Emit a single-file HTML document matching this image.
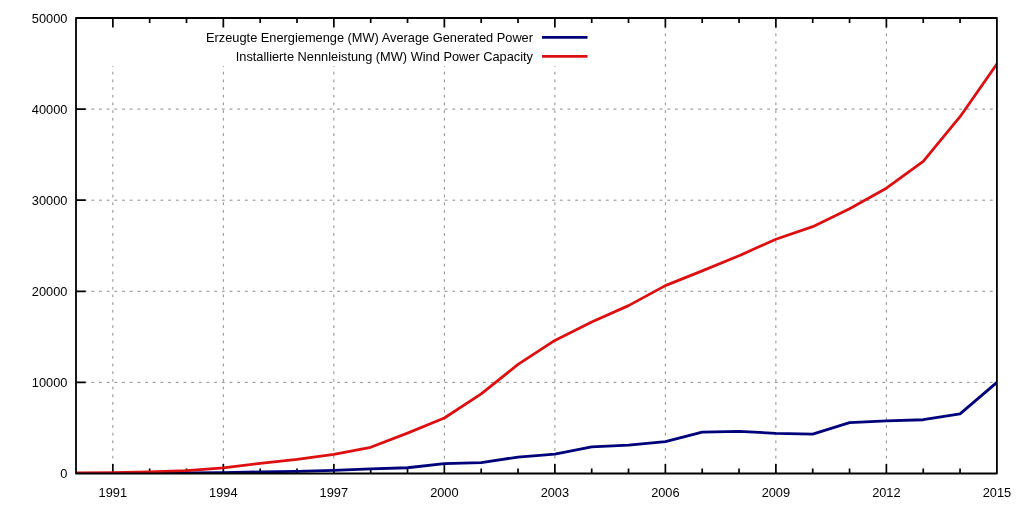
<!DOCTYPE html><html><head><meta charset="utf-8"><style>html,body{margin:0;padding:0;background:#fff;overflow:hidden;}svg{display:block;}text{font-family:"Liberation Sans",sans-serif;font-size:12.8px;fill:#000;}</style></head><body>
<svg style="will-change:transform" width="1024" height="512" viewBox="0 0 1024 512">
<path d="M76.00 382.40H996.90M76.00 291.30H996.90M76.00 200.20H996.90M76.00 109.10H996.90M112.84 18.00V473.50M223.34 18.00V473.50M333.85 18.00V473.50M444.36 18.00V473.50M554.87 18.00V473.50M665.38 18.00V473.50M775.88 18.00V473.50M886.39 18.00V473.50" stroke="#8c8c8c" stroke-width="1" stroke-dasharray="2.8,4.88" fill="none"/>
<rect x="77" y="19" width="545" height="47" fill="#fff"/>
<path d="M112.84 473.50v-9.50M112.84 18.00v9.50M149.67 473.50v-5.00M149.67 18.00v5.00M186.51 473.50v-5.00M186.51 18.00v5.00M223.34 473.50v-9.50M223.34 18.00v9.50M260.18 473.50v-5.00M260.18 18.00v5.00M297.02 473.50v-5.00M297.02 18.00v5.00M333.85 473.50v-9.50M333.85 18.00v9.50M370.69 473.50v-5.00M370.69 18.00v5.00M407.52 473.50v-5.00M407.52 18.00v5.00M444.36 473.50v-9.50M444.36 18.00v9.50M481.20 473.50v-5.00M481.20 18.00v5.00M518.03 473.50v-5.00M518.03 18.00v5.00M554.87 473.50v-9.50M554.87 18.00v9.50M591.70 473.50v-5.00M591.70 18.00v5.00M628.54 473.50v-5.00M628.54 18.00v5.00M665.38 473.50v-9.50M665.38 18.00v9.50M702.21 473.50v-5.00M702.21 18.00v5.00M739.05 473.50v-5.00M739.05 18.00v5.00M775.88 473.50v-9.50M775.88 18.00v9.50M812.72 473.50v-5.00M812.72 18.00v5.00M849.56 473.50v-5.00M849.56 18.00v5.00M886.39 473.50v-9.50M886.39 18.00v9.50M923.23 473.50v-5.00M923.23 18.00v5.00M960.06 473.50v-5.00M960.06 18.00v5.00M76.00 382.40h9.70M76.00 291.30h9.70M76.00 200.20h9.70M76.00 109.10h9.70" stroke="#000" stroke-width="1.7" fill="none"/>
<defs><clipPath id="c"><rect x="76.00" y="18.00" width="920.90" height="455.50"/></clipPath></defs><g clip-path="url(#c)">
<polyline points="76.00,473.43 112.84,473.40 149.67,473.21 186.51,472.88 223.34,472.55 260.18,471.94 297.02,471.39 333.85,470.42 370.69,468.83 407.52,467.75 444.36,463.61 481.20,462.57 518.03,457.08 554.87,454.04 591.70,446.97 628.54,445.18 665.38,441.56 702.21,432.20 739.05,431.30 775.88,433.32 812.72,434.20 849.56,422.66 886.39,420.81 923.23,419.73 960.06,413.85 996.90,382.40" stroke="#00007a" stroke-width="2.8" fill="none" stroke-linejoin="round"/>
<polyline points="76.00,473.00 112.84,472.53 149.67,471.91 186.51,470.53 223.34,467.87 260.18,463.29 297.02,459.39 333.85,454.47 370.69,447.29 407.52,433.10 444.36,417.96 481.20,393.90 518.03,364.40 554.87,340.41 591.70,322.01 628.54,305.62 665.38,285.63 702.21,270.83 739.05,255.80 775.88,239.23 812.72,226.65 849.56,208.66 886.39,188.22 923.23,161.48 960.06,116.71 996.90,64.04" stroke="#dc1010" stroke-width="2.8" fill="none" stroke-linejoin="round"/>
</g>
<rect x="76.00" y="18.00" width="920.90" height="455.50" stroke="#000" stroke-width="1.8" stroke-linejoin="round" fill="none"/>
<text x="533" y="42" text-anchor="end">Erzeugte Energiemenge (MW) Average Generated Power</text>
<path d="M542 37.3H587.5" stroke="#00007a" stroke-width="2.8"/>
<text x="533" y="61" text-anchor="end">Installierte Nennleistung (MW) Wind Power Capacity</text>
<path d="M542 56.3H587.5" stroke="#dc1010" stroke-width="2.8"/>
<text x="67.4" y="478.00" text-anchor="end">0</text>
<text x="67.4" y="386.90" text-anchor="end">10000</text>
<text x="67.4" y="295.80" text-anchor="end">20000</text>
<text x="67.4" y="204.70" text-anchor="end">30000</text>
<text x="67.4" y="113.60" text-anchor="end">40000</text>
<text x="67.4" y="22.50" text-anchor="end">50000</text>
<text x="112.84" y="497.2" text-anchor="middle">1991</text>
<text x="223.34" y="497.2" text-anchor="middle">1994</text>
<text x="333.85" y="497.2" text-anchor="middle">1997</text>
<text x="444.36" y="497.2" text-anchor="middle">2000</text>
<text x="554.87" y="497.2" text-anchor="middle">2003</text>
<text x="665.38" y="497.2" text-anchor="middle">2006</text>
<text x="775.88" y="497.2" text-anchor="middle">2009</text>
<text x="886.39" y="497.2" text-anchor="middle">2012</text>
<text x="996.90" y="497.2" text-anchor="middle">2015</text>
</svg></body></html>
